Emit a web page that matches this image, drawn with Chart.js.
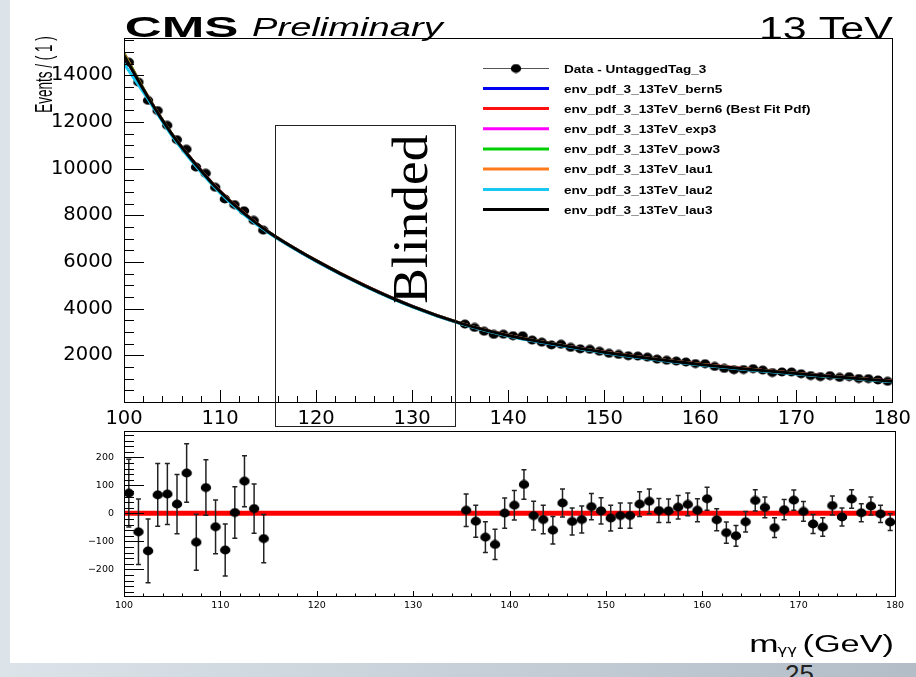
<!DOCTYPE html>
<html>
<head>
<meta charset="utf-8">
<script src="https://cdn.jsdelivr.net/npm/chart.js@4.4.1/dist/chart.umd.min.js"></script>
<style>
  html, body { margin: 0; padding: 0; background: #fff; }
  #page { position: relative; width: 916px; height: 677px; overflow: hidden; background: #fff; }
  #stripL { position: absolute; left: 0; top: 0; width: 10px; height: 677px; background: #dce3e9; }
  #stripB { position: absolute; left: 0; top: 663px; width: 916px; height: 14px;
            background: linear-gradient(to right, #dce3e9, #b2bdc8); }
  #pageNo { position: absolute; left: 785px; top: 661px; font: 26px/26px "Liberation Sans", Arial, sans-serif; color: #222; }
  canvas { position: absolute; left: 0; }
  #topPad { top: 0; }
  #ratioPad { top: 415px; }
</style>
</head>
<body>
<div id="page">
  <div id="stripL"></div>
  <div id="stripB"></div>
  <div id="pageNo">25</div>
  <canvas id="topPad" width="916" height="440"></canvas>
  <canvas id="ratioPad" width="916" height="248"></canvas>
</div>
<script>
// ---- diphoton mass sidebands, 1 GeV bins ----
const massBins = [100.5,101.5,102.5,103.5,104.5,105.5,106.5,107.5,108.5,109.5,110.5,111.5,112.5,113.5,114.5,
  135.5,136.5,137.5,138.5,139.5,140.5,141.5,142.5,143.5,144.5,145.5,146.5,147.5,148.5,149.5,
  150.5,151.5,152.5,153.5,154.5,155.5,156.5,157.5,158.5,159.5,160.5,161.5,162.5,163.5,164.5,
  165.5,166.5,167.5,168.5,169.5,170.5,171.5,172.5,173.5,174.5,175.5,176.5,177.5,178.5,179.5];

const events = [14564,13710,12926,12490,11857,11243,10834,10067,9802,9202,8701,8459,8195,7785,7366,
  3338,3193,3030,2898,2904,2841,2839,2652,2562,2448,2473,2339,2278,2256,2173,
  2085,2038,1982,1967,1921,1836,1787,1752,1714,1645,1641,1524,1436,1383,1391,
  1428,1367,1259,1287,1285,1210,1131,1086,1129,1054,1086,1007,1001,943,884];

const eventErrors = [121,117,114,112,109,106,104,100,99,96,93,92,91,88,86,
  58,57,55,54,54,53,53,51,51,49,50,48,48,47,47,
  46,45,45,44,44,43,42,42,41,41,41,39,38,37,37,
  38,37,35,36,36,35,34,33,34,32,33,32,32,31,30];

// data minus best-fit background
const residuals = [72,-66,-134,66,69,33,144,-103,92,-48,-131,3,115,17,-90,
  11,-28,-85,-111,1,29,103,-8,-22,-60,37,-29,-22,24,9,
  -17,-8,-8,33,43,10,9,22,32,11,52,-23,-69,-80,-30,
  46,21,-51,13,47,7,-38,-49,28,-13,51,2,26,-2,-31];

// ---- background pdf envelope, sampled along the mass axis ----
const fitMass = [100,102.5,105,107.5,110,112.5,115,120,125,130,135,140,145,150,155,160,165,170,175,180];
const bern5 = [14880,13050,11470,10170,9030,8080,7300,6050,5000,4110,3380,2850,2460,2130,1850,1610,1400,1220,1050,885];
const bern6 = [14950,13080,11460,10160,9030,8090,7290,6060,5010,4100,3370,2850,2470,2140,1850,1620,1410,1220,1050,880];
const exp3  = [14900,13060,11460,10170,9020,8080,7300,6060,5000,4100,3380,2850,2470,2130,1850,1610,1400,1220,1050,885];
const pow3  = [14930,13070,11470,10160,9020,8080,7300,6060,5000,4100,3380,2850,2470,2130,1850,1610,1400,1220,1050,880];
const lau1  = [14880,13060,11470,10170,9020,8080,7300,6060,5000,4100,3380,2850,2470,2130,1850,1610,1400,1220,1050,885];
const lau2  = [14500,12980,11400,10100,8960,8030,7260,6030,4980,4080,3360,2830,2450,2110,1830,1590,1385,1205,1035,865];
const lau3  = [14850,13060,11470,10170,9020,8080,7300,6060,5000,4100,3380,2850,2470,2130,1850,1610,1400,1220,1050,890];

const seriesNames = ['env_pdf_3_13TeV_bern5', 'env_pdf_3_13TeV_bern6 (Best Fit Pdf)', 'env_pdf_3_13TeV_exp3',
  'env_pdf_3_13TeV_pow3', 'env_pdf_3_13TeV_lau1', 'env_pdf_3_13TeV_lau2', 'env_pdf_3_13TeV_lau3'];
const seriesValues = [bern5, bern6, exp3, pow3, lau1, lau2, lau3];
const seriesColors = ['#0000f0', '#ff1010', '#ff00ff', '#00d000', '#ff7a1a', '#18c8f0', '#000000'];
const dataLabel = 'Data - UntaggedTag_3';

const blindedWindow = [115.7, 134.5];   // mass range hidden from the fit display
const blindedTop = 11870;               // events level of the box top

// ---- axis labels ----
const massTicks = [100, 110, 120, 130, 140, 150, 160, 170, 180];
const eventTicks = [2000, 4000, 6000, 8000, 10000, 12000, 14000];
const residualTicks = [-200, -100, 0, 100, 200];

// ---- helpers ----
function markerImage(rx, ry) {
  const c = document.createElement('canvas');
  c.width = Math.ceil(rx * 2) + 1; c.height = Math.ceil(ry * 2) + 1;
  const g = c.getContext('2d');
  g.fillStyle = '#000';
  g.beginPath(); g.ellipse(c.width / 2, c.height / 2, rx, ry, 0, 0, Math.PI * 2); g.fill();
  return c;
}
const dot = markerImage(5.2, 4.4);

// draw text so its ink spans [left, right] horizontally, keeping the font height
function fitText(ctx, text, left, right, baseline, font, color) {
  ctx.save();
  ctx.font = font; ctx.fillStyle = color || '#000';
  ctx.textAlign = 'left'; ctx.textBaseline = 'alphabetic';
  const m = ctx.measureText(text);
  const ink = m.actualBoundingBoxLeft + m.actualBoundingBoxRight;
  const sx = (right - left) / ink;
  ctx.translate(left, baseline); ctx.scale(sx, 1);
  ctx.fillText(text, m.actualBoundingBoxLeft, 0);
  ctx.restore();
}
// vertical text reading upward, ink spanning [yBottom, yTop], baseline on x = xBase
function fitTextUp(ctx, text, xBase, yBottom, yTop, font, thick) {
  ctx.save();
  ctx.font = font; ctx.fillStyle = '#000';
  ctx.textAlign = 'left'; ctx.textBaseline = 'alphabetic';
  const m = ctx.measureText(text);
  const ink = m.actualBoundingBoxLeft + m.actualBoundingBoxRight;
  const sx = (yBottom - yTop) / ink;
  ctx.translate(xBase, yBottom); ctx.rotate(-Math.PI / 2); ctx.scale(sx, thick || 1);
  ctx.fillText(text, m.actualBoundingBoxLeft, 0);
  ctx.restore();
}

// frame with inward ticks
const rootFrame = {
  id: 'rootFrame',
  afterDatasetsDraw(chart, args, o) {
    const { ctx, chartArea: a, scales: { x, y } } = chart;
    ctx.save();
    ctx.strokeStyle = '#000'; ctx.lineWidth = 1;
    ctx.strokeRect(Math.round(a.left) + 0.5, Math.round(a.top) + 0.5,
      Math.round(a.right - a.left), Math.round(a.bottom - a.top));
    ctx.beginPath();
    for (let v = x.min; v <= x.max + 1e-9; v += o.xMinor) {
      const p = Math.round(x.getPixelForValue(v)) + 0.5;
      const major = Math.abs(v / o.xMajor - Math.round(v / o.xMajor)) < 1e-6;
      ctx.moveTo(p, a.bottom); ctx.lineTo(p, a.bottom - (major ? o.xMajLen : o.xMinLen));
    }
    const y0 = Math.ceil(y.min / o.yMinor) * o.yMinor;
    for (let v = y0; v <= y.max + 1e-9; v += o.yMinor) {
      const p = Math.round(y.getPixelForValue(v)) + 0.5;
      const major = Math.abs(v / o.yMajor - Math.round(v / o.yMajor)) < 1e-6;
      ctx.moveTo(a.left, p); ctx.lineTo(a.left + (major ? o.yMajLen : o.yMinLen), p);
    }
    ctx.stroke();
    ctx.restore();
  }
};

// vertical error bars under the marker dataset
const errorBars = {
  id: 'errorBars',
  beforeDatasetDraw(chart, args, o) {
    if (args.index !== o.datasetIndex) return;
    const { ctx, scales: { x, y } } = chart;
    const ds = chart.data.datasets[o.datasetIndex];
    ctx.save();
    ctx.strokeStyle = o.color; ctx.lineWidth = o.lineWidth;
    ctx.beginPath();
    ds.data.forEach((pt, i) => {
      const px = x.getPixelForValue(pt.x);
      const lo = y.getPixelForValue(pt.y - o.errors[i]);
      const hi = y.getPixelForValue(pt.y + o.errors[i]);
      ctx.moveTo(px, lo); ctx.lineTo(px, hi);
      if (o.cap > 0) {
        ctx.moveTo(px - o.cap, lo); ctx.lineTo(px + o.cap, lo);
        ctx.moveTo(px - o.cap, hi); ctx.lineTo(px + o.cap, hi);
      }
    });
    ctx.stroke();
    ctx.restore();
  }
};

// titles, legend and the blinded window on the main pad
const mainDecor = {
  id: 'mainDecor',
  afterDraw(chart) {
    const { ctx, chartArea: a, scales: { x, y } } = chart;
    fitText(ctx, 'CMS', 126.5, 236.7, 36.7, 'bold 30px "Liberation Sans"');
    fitText(ctx, 'Preliminary', 252, 445, 35.5, 'italic 25px "Liberation Sans"');
    fitText(ctx, '13 TeV', 761.7, 893.3, 39, '31px "Liberation Sans"');

    fitTextUp(ctx, 'Events / ( 1 )', 51.5, 112, 37, '18px "Liberation Sans"', 1.3);

    // legend
    const rows = [68.5, 88.5, 108.5, 128.8, 149, 169, 189.5, 209.5];
    const lx0 = 483, lx1 = 549, tx = 564;
    ctx.save();
    const lf = 'bold 11.6px "Liberation Sans"';
    ctx.font = lf;
    const m0 = ctx.measureText(dataLabel);
    const lsx = 143 / (m0.actualBoundingBoxLeft + m0.actualBoundingBoxRight);
    const label = (t, yy) => {
      ctx.save(); ctx.font = lf; ctx.fillStyle = '#000'; ctx.textBaseline = 'alphabetic';
      ctx.translate(tx, yy + 4.2); ctx.scale(lsx, 1); ctx.fillText(t, 0, 0); ctx.restore();
    };
    ctx.strokeStyle = '#555'; ctx.lineWidth = 1;
    ctx.beginPath(); ctx.moveTo(lx0, rows[0]); ctx.lineTo(lx1, rows[0]); ctx.stroke();
    ctx.drawImage(dot, (lx0 + lx1) / 2 - dot.width / 2, rows[0] - dot.height / 2);
    label(dataLabel, rows[0]);
    seriesNames.forEach((n, i) => {
      const yy = rows[i + 1];
      ctx.strokeStyle = seriesColors[i]; ctx.lineWidth = 3;
      ctx.beginPath(); ctx.moveTo(lx0, yy); ctx.lineTo(lx1, yy); ctx.stroke();
      label(n, yy);
    });
    ctx.restore();

    // blinded signal window
    const bl = Math.round(x.getPixelForValue(blindedWindow[0])) + 0.5;
    const br = Math.round(x.getPixelForValue(blindedWindow[1])) + 0.5;
    const bt = Math.round(y.getPixelForValue(blindedTop)) + 0.5;
    const bb = Math.round(a.bottom) + 24.5;
    ctx.save();
    ctx.strokeStyle = '#222'; ctx.lineWidth = 1;
    ctx.strokeRect(bl, bt, br - bl, bb - bt);
    ctx.restore();
    fitTextUp(ctx, 'Blinded', 426.7, 302.7, 135, '51px "Liberation Serif"', 1);
  }
};

const ratioDecor = {
  id: 'ratioDecor',
  afterDraw(chart) {
    const ctx = chart.ctx;
    const base = 651.5 - 415;
    fitText(ctx, 'm', 750.7, 776.7, base, '23px "Liberation Sans"');
    fitText(ctx, 'γγ', 777.5, 796.7, base + 2.5, '12px "DejaVu Sans"');
    fitText(ctx, '(GeV)', 804, 893, base, '23px "Liberation Sans"');
  }
};

const fixedTicks = list => s => { s.ticks = list.map(v => ({ value: v })); };
const plainNumber = v => (v < 0 ? '\u2212' + Math.abs(v) : String(v));

// ---- main pad ----
const curveSets = seriesValues.map((vals, i) => ({
  label: seriesNames[i],
  data: fitMass.map((m, k) => ({ x: m, y: vals[k] })),
  borderColor: seriesColors[i],
  borderWidth: 3,
  pointRadius: 0,
  showLine: true,
  fill: false,
  cubicInterpolationMode: 'monotone',
  order: seriesNames.length - 1 - i
}));

const dataSet = {
  label: dataLabel,
  data: massBins.map((m, i) => ({ x: m, y: events[i] })),
  showLine: false,
  pointStyle: dot,
  pointRadius: 5,
  order: 20
};

new Chart(document.getElementById('topPad'), {
  type: 'line',
  data: { datasets: [dataSet, ...curveSets] },
  options: {
    responsive: false,
    animation: false,
    events: [],
    layout: { padding: { left: 0, right: 21, top: 38, bottom: 0 } },
    plugins: {
      legend: { display: false },
      tooltip: { enabled: false },
      rootFrame: { xMinor: 2, xMajor: 10, xMajLen: 12, xMinLen: 6, yMinor: 500, yMajor: 2000, yMajLen: 20, yMinLen: 10 },
      errorBars: { datasetIndex: 0, errors: eventErrors, color: '#000', lineWidth: 1.5, cap: 0 }
    },
    scales: {
      x: {
        type: 'linear', min: 100, max: 180,
        afterBuildTicks: fixedTicks(massTicks),
        ticks: { color: '#000', font: { family: 'DejaVu Sans', size: 19.5 }, padding: 5, maxRotation: 0, autoSkip: false,
                 callback: plainNumber },
        grid: { display: false, drawTicks: false },
        border: { display: false },
        afterFit: s => { s.height = 38; }
      },
      y: {
        type: 'linear', min: 0, max: 15600,
        afterBuildTicks: fixedTicks(eventTicks),
        ticks: { color: '#000', font: { family: 'DejaVu Sans', size: 19.5 }, padding: 11, autoSkip: false,
                 callback: plainNumber },
        grid: { display: false, drawTicks: false },
        border: { display: false },
        afterFit: s => { s.width = 124; }
      }
    }
  },
  plugins: [errorBars, rootFrame, mainDecor]
});

// ---- residual pad ----
new Chart(document.getElementById('ratioPad'), {
  type: 'line',
  data: {
    datasets: [
      {
        label: 'residual',
        data: massBins.map((m, i) => ({ x: m, y: residuals[i] })),
        showLine: false,
        pointStyle: dot,
        pointRadius: 5,
        order: 0
      },
      {
        label: 'zero',
        data: [{ x: 100, y: 0 }, { x: 180, y: 0 }],
        borderColor: '#ff0000',
        borderWidth: 5,
        pointRadius: 0,
        showLine: true,
        order: 1
      }
    ]
  },
  options: {
    responsive: false,
    animation: false,
    events: [],
    layout: { padding: { left: 0, right: 21, top: 10, bottom: 0 } },
    plugins: {
      legend: { display: false },
      tooltip: { enabled: false },
      rootFrame: { xMinor: 2, xMajor: 10, xMajLen: 5, xMinLen: 2.5, yMinor: 20, yMajor: 100, yMajLen: 20, yMinLen: 10 },
      errorBars: { datasetIndex: 0, errors: eventErrors, color: '#222', lineWidth: 1.5, cap: 2.5 }
    },
    scales: {
      x: {
        type: 'linear', min: 100, max: 180,
        afterBuildTicks: fixedTicks(massTicks),
        ticks: { color: '#000', font: { family: 'DejaVu Sans', size: 9.5 }, padding: 4, maxRotation: 0, autoSkip: false,
                 callback: plainNumber },
        grid: { display: false, drawTicks: false },
        border: { display: false },
        afterFit: s => { s.height = 67; }
      },
      y: {
        type: 'linear', min: -295, max: 295,
        afterBuildTicks: fixedTicks(residualTicks),
        ticks: { color: '#000', font: { family: 'DejaVu Sans', size: 9.5 }, padding: 10, autoSkip: false,
                 callback: plainNumber },
        grid: { display: false, drawTicks: false },
        border: { display: false },
        afterFit: s => { s.width = 124; }
      }
    }
  },
  plugins: [errorBars, rootFrame, ratioDecor]
});
</script>
</body>
</html>
